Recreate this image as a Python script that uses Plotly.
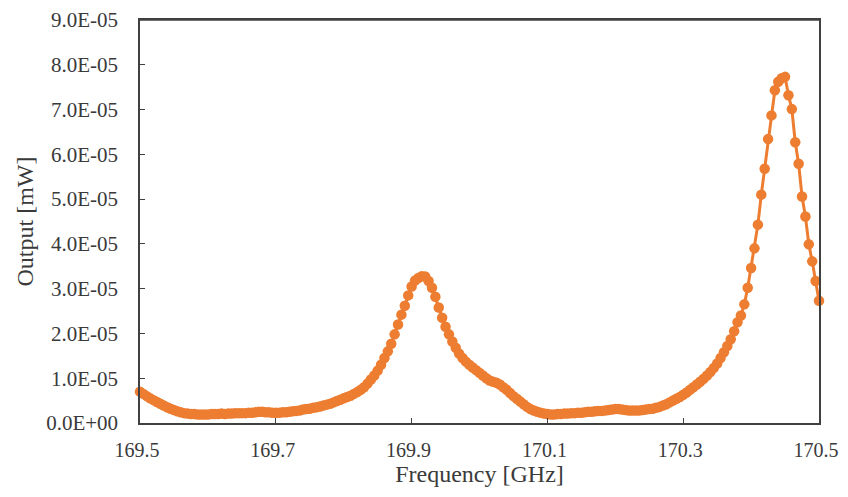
import plotly.graph_objects as go

# Frequency grid [GHz] (169.5 .. 170.5, step 0.005)
freq_ghz = [round(169.5 + 0.005 * i, 3) for i in range(201)]

# Output [x1e-5 mW] (10 values per row)
output_e5 = [
    0.70, 0.65, 0.60, 0.55, 0.51, 0.47, 0.43, 0.39, 0.35, 0.32,   # 169.500-169.545
    0.29, 0.26, 0.24, 0.22, 0.21, 0.20, 0.20, 0.19, 0.19, 0.19,   # 169.550-169.595
    0.19, 0.20, 0.20, 0.20, 0.21, 0.20, 0.21, 0.21, 0.22, 0.22,   # 169.600-169.645
    0.22, 0.22, 0.23, 0.23, 0.24, 0.25, 0.25, 0.24, 0.24, 0.23,   # 169.650-169.695
    0.23, 0.23, 0.24, 0.24, 0.25, 0.26, 0.27, 0.28, 0.30, 0.31,   # 169.700-169.745
    0.32, 0.34, 0.35, 0.37, 0.39, 0.41, 0.43, 0.46, 0.49, 0.52,   # 169.750-169.795
    0.55, 0.58, 0.61, 0.65, 0.69, 0.74, 0.80, 0.88, 0.97, 1.06,   # 169.800-169.845
    1.17, 1.30, 1.45, 1.60, 1.77, 1.98, 2.20, 2.42, 2.62, 2.85,   # 169.850-169.895
    3.05, 3.18, 3.24, 3.28, 3.27, 3.17, 3.02, 2.82, 2.58, 2.35,   # 169.900-169.945
    2.15, 1.98, 1.82, 1.68, 1.55, 1.45, 1.37, 1.30, 1.24, 1.18,   # 169.950-169.995
    1.12, 1.06, 1.00, 0.95, 0.92, 0.90, 0.86, 0.80, 0.74, 0.67,   # 170.000-170.045
    0.60, 0.54, 0.48, 0.42, 0.36, 0.31, 0.28, 0.25, 0.23, 0.21,   # 170.050-170.095
    0.20, 0.19, 0.19, 0.20, 0.20, 0.21, 0.21, 0.22, 0.22, 0.23,   # 170.100-170.145
    0.23, 0.24, 0.25, 0.25, 0.26, 0.27, 0.27, 0.28, 0.29, 0.30,   # 170.150-170.195
    0.31, 0.31, 0.30, 0.29, 0.28, 0.28, 0.28, 0.28, 0.29, 0.30,   # 170.200-170.245
    0.31, 0.32, 0.34, 0.36, 0.39, 0.42, 0.46, 0.50, 0.54, 0.58,   # 170.250-170.295
    0.63, 0.68, 0.74, 0.80, 0.86, 0.92, 0.99, 1.06, 1.14, 1.23,   # 170.300-170.345
    1.33, 1.45, 1.58, 1.72, 1.87, 2.05, 2.25, 2.40, 2.65, 3.02,   # 170.350-170.395
    3.46, 3.90, 4.43, 5.10, 5.68, 6.34, 6.87, 7.43, 7.62, 7.70,   # 170.400-170.445
    7.73, 7.32, 7.01, 6.27, 5.79, 5.06, 4.61, 3.99, 3.61, 3.17,   # 170.450-170.495
    2.73,                                                         # 170.500
]
output_mw = [round(v * 1e-5, 12) for v in output_e5]

x_ticks = [169.5, 169.7, 169.9, 170.1, 170.3, 170.5]
x_ticktext = ["169.5", "169.7", "169.9", "170.1", "170.3", "170.5"]
y_ticks = [0.0, 1e-5, 2e-5, 3e-5, 4e-5, 5e-5, 6e-5, 7e-5, 8e-5, 9e-5]
y_ticktext = ["0.0E+00", "1.0E-05", "2.0E-05", "3.0E-05", "4.0E-05",
              "5.0E-05", "6.0E-05", "7.0E-05", "8.0E-05", "9.0E-05"]

ORANGE = "#ED7D31"
FONT = "Liberation Serif"
TXT = "#3a3a3a"
AXIS = "#404040"

fig = go.Figure(
    go.Scatter(
        x=freq_ghz[:len(output_mw)], y=output_mw,
        mode="lines+markers",
        line=dict(color=ORANGE, width=3),
        marker=dict(color=ORANGE, size=10.5),
        cliponaxis=False,
        showlegend=False,
    )
)

axis_common = dict(
    showgrid=False, zeroline=False, automargin=False,
    showline=True, linecolor=AXIS, linewidth=1.5, mirror=True,
    ticks="inside", ticklen=5, tickwidth=1.2, tickcolor=AXIS,
    ticklabeloverflow="allow",
)

fig.update_layout(
    width=832, height=481,
    margin=dict(l=132, r=21, t=12, b=66),
    paper_bgcolor="white", plot_bgcolor="white",
    font=dict(family=FONT, color=TXT),
    xaxis=dict(
        range=[169.5, 170.5], tickvals=x_ticks, ticktext=x_ticktext,
        ticklabelstandoff=8, ticklabelshift=-3,
        tickfont=dict(family=FONT, size=20, color=TXT),
        title=dict(text="Frequency [GHz]", font=dict(family=FONT, size=24, color=TXT), standoff=2),
        **axis_common,
    ),
    yaxis=dict(
        range=[0, 9.0001e-5], tickvals=y_ticks, ticktext=y_ticktext,
        ticklabelstandoff=16,
        tickfont=dict(family=FONT, size=21, color=TXT),
        **axis_common,
    ),
    shapes=[dict(type="line", xref="paper", yref="paper", x0=0, x1=1, y0=1, y1=1,
                 line=dict(color=AXIS, width=1.5), layer="above")],
    annotations=[dict(text="Output [mW]", xref="paper", yref="paper", x=0, y=0.5,
                      xanchor="center", yanchor="middle", xshift=-116, textangle=-90,
                      showarrow=False, font=dict(family=FONT, size=24, color=TXT))],
)

fig.write_html("out.html")
